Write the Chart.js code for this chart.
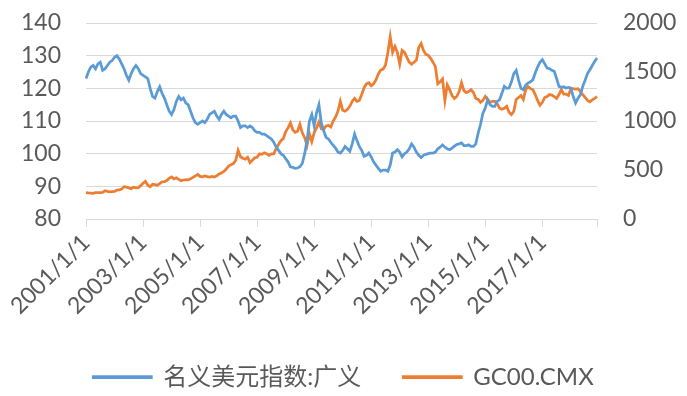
<!DOCTYPE html>
<html lang="zh">
<head>
    <meta charset="UTF-8">
    <title>名义美元指数与黄金价格</title>
    <script src="https://cdn.jsdelivr.net/npm/chart.js"></script>
    <style>
        body {
            margin: 0;
            padding: 0;
            background: #ffffff;
        }

        #chart-container {
            width: 687px;
            height: 396px;
        }
    </style>
</head>
<body>
    <div id="chart-container">
        <canvas id="usdGoldChart" width="687" height="396"></canvas>
    </div>

    <script>
        // 月度数据 2001/1 - 2018/12
        const years = [2001, 2002, 2003, 2004, 2005, 2006, 2007, 2008, 2009,
                       2010, 2011, 2012, 2013, 2014, 2015, 2016, 2017, 2018];

        const usdIndex = [
            123, 125, 126.5, 127, 126, 127.5, 128, 125.5, 126, 127, 128, 128.5,
            129.5, 130, 129, 127.5, 126, 124, 122.5, 124.5, 126, 127, 126, 124.5,
            124, 123.5, 123, 120, 117.5, 117, 119, 120.5, 118.5, 117, 115, 113,
            112, 113.5, 116, 117.5, 116.5, 117, 115.5, 115, 113, 111, 109.5, 109,
            109.5, 110, 109.5, 110.5, 112, 112.5, 113, 111.5, 110.5, 112, 113, 112,
            111.5, 111, 111.5, 111.5, 110, 108, 108.5, 108.5, 108, 108.5, 108, 107,
            106.5, 106.5, 106, 106, 105.5, 105, 104.5, 103.5, 102, 101, 100, 99.5,
            98.5, 97.5, 96, 95.8, 95.5, 95.6, 96, 97, 100, 104, 110, 112,
            108.5, 112.5, 115, 109.5, 107, 105, 104.5, 103.5, 102.5, 101.7, 100.5, 100.2,
            101, 102.2, 101.5, 100.7, 103, 106, 104, 102.2, 101, 99.2, 99.5, 100.2,
            99, 97.5, 96.5, 95.5, 94.6, 95, 95, 94.6, 96.5, 100.2, 100.5, 101.2,
            100.5, 99, 100, 100.5, 101.5, 103, 102, 100.5, 99.5, 98.8, 99.5, 99.8,
            100, 100.2, 100.2, 100.5, 101.5, 102, 102.7, 102, 101.5, 101.2, 101.7, 102.3,
            102.8, 103, 103.3, 102.5, 102.5, 102.7, 102.2, 102.2, 103, 106.3, 109, 112.4,
            114, 116.5, 115, 114.5, 114.5, 116, 116.5, 118.5, 120.6, 120, 120.1, 122,
            124.5, 125.5, 122.5, 120, 119.6, 121, 121.6, 122, 122.6, 124.7, 126.5, 128,
            128.8, 127.5, 126.2, 126, 125.5, 125.2, 123, 120.6, 120.3, 120.5, 120.1, 120.3,
            120.1, 117.5, 115.5, 117, 118, 120.6, 122.5, 124.5, 125.7, 127, 128.2, 129.3
        ];

        const goldPrice = [
            270, 266, 264, 262, 268, 270, 268, 272, 288, 282, 276, 280,
            282, 295, 298, 305, 330, 325, 318, 310, 325, 318, 320, 340,
            365, 384, 345, 330, 355, 350, 345, 360, 378, 380, 392, 415,
            430, 410, 420, 405, 390, 398, 402, 400, 410, 425, 440, 455,
            435, 430, 440, 432, 428, 435, 428, 440, 460, 470, 485, 510,
            540, 555, 565, 600, 700, 635, 620, 610, 630, 575, 600, 625,
            630, 665, 660, 675, 665, 650, 665, 665, 720, 760, 800, 820,
            890, 930, 980, 910, 885, 895, 965, 880, 830, 750, 870, 790,
            880, 930, 990, 920, 915, 950, 955, 940, 1000, 1040, 1100, 1200,
            1110, 1100, 1120, 1150, 1200, 1230, 1200, 1210, 1270, 1340, 1380, 1390,
            1360, 1380, 1420, 1480, 1520, 1530, 1570, 1700, 1860, 1700, 1760, 1700,
            1580, 1720, 1700, 1650, 1600, 1580, 1600, 1620, 1750, 1790, 1720, 1680,
            1670, 1640, 1600, 1555, 1380, 1400, 1430, 1210, 1370, 1320, 1260, 1230,
            1250, 1300, 1390, 1310, 1290, 1300, 1320, 1290, 1230, 1220, 1190, 1210,
            1250, 1220, 1190, 1200, 1200, 1175, 1130, 1120, 1130, 1150, 1090, 1065,
            1100, 1220, 1240, 1260, 1220, 1320, 1350, 1330, 1320, 1270, 1210, 1160,
            1190, 1240, 1250, 1270, 1265, 1250, 1230, 1270, 1320, 1275, 1275, 1260,
            1330, 1330, 1325, 1330, 1300, 1270, 1240, 1210, 1195, 1215, 1230, 1250
        ];

        const seriesNames = ['名义美元指数:广义', 'GC00.CMX'];
        const leftTicks = [80, 90, 100, 110, 120, 130, 140];
        const rightTicks = [0, 500, 1000, 1500, 2000];

        const monthLabels = [];
        years.forEach(y => {
            for (let m = 1; m <= 12; m++) {
                monthLabels.push(y + '/' + m + '/1');
            }
        });

        const fontFamily = "Lato, 'Noto Sans CJK SC', sans-serif";
        const textColor = '#595959';
        const gridColor = '#d9d9d9';

        const ctx = document.getElementById('usdGoldChart').getContext('2d');
        new Chart(ctx, {
            type: 'line',
            data: {
                labels: monthLabels,
                datasets: [{
                    label: seriesNames[0],
                    data: usdIndex,
                    yAxisID: 'y',
                    borderColor: '#5b9bd5',
                    backgroundColor: '#5b9bd5',
                    borderWidth: 2.75,
                    pointRadius: 0,
                    tension: 0
                }, {
                    label: seriesNames[1],
                    data: goldPrice,
                    yAxisID: 'y1',
                    borderColor: '#ed7d31',
                    backgroundColor: '#ed7d31',
                    borderWidth: 2.75,
                    pointRadius: 0,
                    tension: 0
                }]
            },
            options: {
                responsive: false,
                animation: false,
                layout: {
                    padding: { top: 23, left: 0, right: 0, bottom: -3 }
                },
                plugins: {
                    tooltip: { enabled: false },
                    legend: {
                        position: 'bottom',
                        labels: {
                            boxWidth: 58,
                            boxHeight: 1,
                            padding: 42,
                            color: textColor,
                            font: { family: fontFamily, size: 24 }
                        }
                    }
                },
                scales: {
                    x: {
                        offset: false,
                        grid: {
                            drawOnChartArea: false,
                            drawTicks: true,
                            tickLength: 8,
                            color: gridColor
                        },
                        border: { display: true, color: gridColor },
                        ticks: {
                            autoSkip: false,
                            minRotation: 45,
                            maxRotation: 45,
                            padding: 2,
                            color: textColor,
                            font: { family: fontFamily, size: 23 },
                            callback: function (value, index) {
                                if (index % 24 === 0) return this.getLabelForValue(value);
                                if (index === monthLabels.length - 1) return '';
                                return null;
                            }
                        },
                        afterFit: scale => { scale.height = 104; }
                    },
                    y: {
                        position: 'left',
                        min: leftTicks[0],
                        max: leftTicks[leftTicks.length - 1],
                        afterBuildTicks: scale => {
                            scale.ticks = leftTicks.map(v => ({ value: v }));
                        },
                        // 透明刻度线用来留出标签间距
                        grid: {
                            color: gridColor,
                            drawTicks: true,
                            tickLength: 25,
                            tickColor: 'rgba(0,0,0,0)'
                        },
                        border: { display: false },
                        ticks: {
                            autoSkip: false,
                            padding: 0,
                            color: textColor,
                            font: { family: fontFamily, size: 23 },
                            callback: v => v
                        },
                        afterFit: scale => { scale.width = 86; }
                    },
                    y1: {
                        position: 'right',
                        min: rightTicks[0],
                        max: rightTicks[rightTicks.length - 1],
                        afterBuildTicks: scale => {
                            scale.ticks = rightTicks.map(v => ({ value: v }));
                        },
                        grid: {
                            drawOnChartArea: false,
                            drawTicks: true,
                            tickLength: 26,
                            tickColor: 'rgba(0,0,0,0)'
                        },
                        border: { display: false },
                        ticks: {
                            autoSkip: false,
                            padding: 0,
                            color: textColor,
                            font: { family: fontFamily, size: 23 },
                            callback: v => v
                        },
                        afterFit: scale => { scale.width = 90; }
                    }
                }
            }
        });
    </script>
</body>
</html>
